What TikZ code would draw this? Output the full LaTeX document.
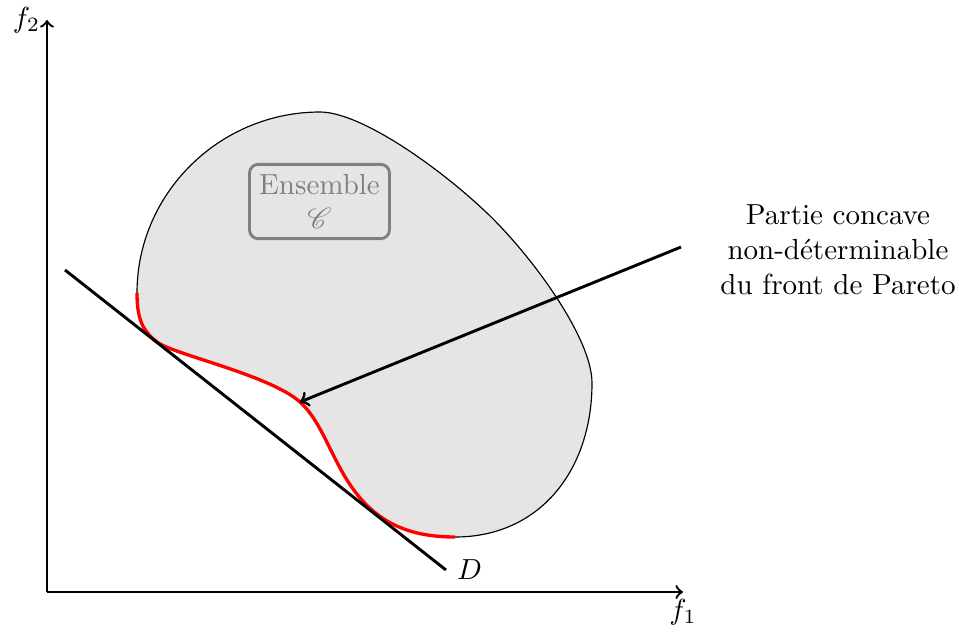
\documentclass[tikz,border=0pt]{standalone}
\usepackage{mathrsfs}
\tikzset{
  axis/.style={thick,->},
  front/.style={red,line width=1.15pt},
  droite/.style={line width=1pt},
  fleche/.style={line width=1pt,->},
  ensbox/.style={draw=gray,text=gray,line width=1pt,rounded corners=3pt,align=center},
  legende/.style={align=center}
}
\begin{document}
\begin{tikzpicture}[x=0.3448pt,y=-0.3448pt]
\path[use as bounding box] (0,0) rectangle (959,631);
% blob
\coordinate (A) at (137,293);
\coordinate (B) at (157,342);
\coordinate (M) at (300,402);
\coordinate (N) at (347,480);
\coordinate (P3) at (455,537);
\coordinate (P4) at (592,383);
\coordinate (R) at (487,213);
\coordinate (T) at (320,112);
\fill[gray!20] (A) .. controls (137,320) and (143,331) .. (B)
  .. controls (172,354) and (270,375) .. (M)
  .. controls (320,420) and (329,451) .. (N)
  .. controls (372,520) and (405,537) .. (P3)
  .. controls (540,537) and (592,470) .. (P4)
  .. controls (592,338) and (532,256) .. (R)
  .. controls (437,165.5) and (360,112) .. (T)
  .. controls (220,112) and (137,193) .. (A) -- cycle;
\draw (P3) .. controls (540,537) and (592,470) .. (P4)
  .. controls (592,338) and (532,256) .. (R)
  .. controls (437,165.5) and (360,112) .. (T)
  .. controls (220,112) and (137,193) .. (A);
\draw[front] (A) .. controls (137,320) and (143,331) .. (B)
  .. controls (172,354) and (270,375) .. (M)
  .. controls (320,420) and (329,451) .. (N)
  .. controls (372,520) and (405,537) .. (P3);
% axes
\coordinate (O) at (47,592);
\coordinate (Y) at (47,20);
\coordinate (X) at (683,592);
\draw[axis] (O) -- (Y) node[left,inner sep=2pt] (f2) {$f_2$};
\draw[axis] (O) -- (X) node[below,inner sep=2pt] (f1) {$f_1$};
% line D
\coordinate (D1) at (65,270);
\coordinate (D2) at (446,570);
\draw[droite] (D1) -- (D2) node[right] (Dl) {$D$};
% ensemble box
\node[ensbox] (ens) at (319.5,201.5) {Ensemble\\$\mathscr{C}$};
% legend and arrow
\node[legende] (leg) at (838,250) {Partie concave\\non-déterminable\\du front de Pareto};
\coordinate (A0) at (681,247);
\draw[fleche] (A0) -- (M);
\end{tikzpicture}
\end{document}
